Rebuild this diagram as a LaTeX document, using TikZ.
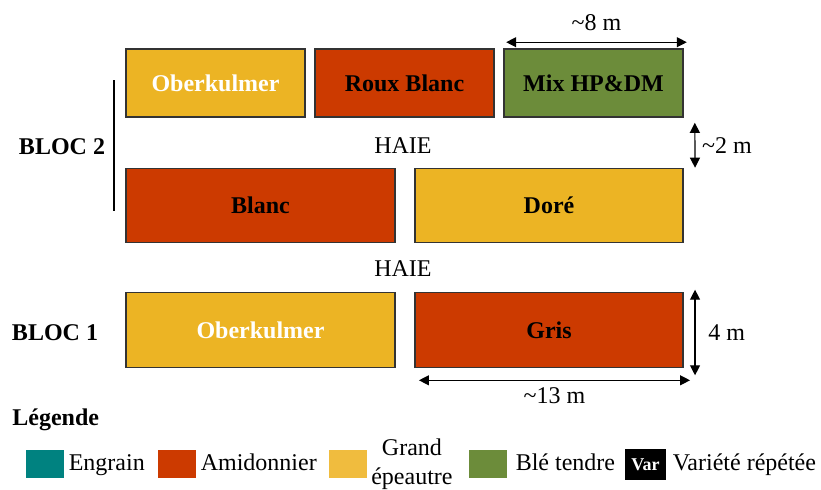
\documentclass[tikz,border=0pt]{standalone}
\usepackage{fontspec}
\setmainfont{Liberation Serif}
\usetikzlibrary{arrows.meta,positioning}

\definecolor{amidonnier}{RGB}{204,58,0}
\definecolor{epeautre}{RGB}{236,180,36}
\definecolor{epeautreleg}{RGB}{240,188,62}
\definecolor{bletendre}{RGB}{108,140,58}
\definecolor{engrain}{RGB}{0,130,128}

\newcommand{\taille}{\fontsize{12pt}{14.5pt}\selectfont}

\tikzset{
  parcelle/.style={draw=black!80, line width=0.8pt, inner sep=0pt, font=\taille\bfseries},
  petite/.style={parcelle, minimum width=89.5pt, minimum height=34pt},
  grande/.style={parcelle, minimum width=134.25pt, minimum height=37pt},
  cote/.style={{Triangle[length=5pt,width=5pt]}-{Triangle[length=5pt,width=5pt]}, line width=0.6pt},
  carre/.style={minimum width=19pt, minimum height=14pt, inner sep=0pt},
  legtexte/.style={anchor=west, inner sep=0pt, text height=8.5pt, text depth=2.5pt}
}

\begin{document}
\begin{tikzpicture}[x=0.5pt, y=-0.5pt, every node/.style={font=\taille}]
  \useasboundingbox (0,0) rectangle (821,489);

  % Bloc 2, premiere rangee
  \node[petite, fill=epeautre, text=white] (ober2) at (215.5,83) {Oberkulmer};
  \node[petite, fill=amidonnier] (roux) at (404.5,83) {Roux Blanc};
  \node[petite, fill=bletendre] (mix) at (593.5,83) {Mix HP\&DM};

  % Bloc 2, seconde rangee
  \node[grande, fill=amidonnier] (blanc) at (260.5,205.5) {Blanc};
  \node[grande, fill=epeautre] (dore) at (549,205.5) {Doré};

  % Bloc 1
  \node[grande, fill=epeautre, text=white, minimum height=37.5pt] (ober1) at (260.5,330) {Oberkulmer};
  \node[grande, fill=amidonnier, minimum height=37.5pt] (gris) at (549,330) {Gris};

  % Haies et blocs
  \node (haie2) at (403,146) {HAIE};
  \node (haie1) at (403,269) {HAIE};
  \node[font=\taille\bfseries] (bloc2) at (62,147) {BLOC 2};
  \node[font=\taille\bfseries] (bloc1) at (55,333) {BLOC 1};
  \draw[line width=1pt] (114,80) -- (114,211);

  % Cotes
  \draw[cote] ([xshift=1.5pt,yshift=3pt]mix.north west) -- ([xshift=1.5pt,yshift=3pt]mix.north east)
      node[midway, above=2pt] {\textasciitilde8 m};
  \draw[cote] ([xshift=5.5pt,yshift=-2.5pt]mix.south east) -- ([xshift=5.5pt]dore.north east)
      node[midway, right=0pt] {\textasciitilde2 m};
  \draw[cote] ([xshift=5.5pt,yshift=1pt]gris.north east) -- ([xshift=5.5pt,yshift=-3.5pt]gris.south east)
      node[midway, right=3pt] {4 m};
  \draw[cote] ([xshift=2.5pt,yshift=-6pt]gris.south west) -- ([xshift=3pt,yshift=-6pt]gris.south east)
      node[midway, below=0pt] {\textasciitilde13 m};

  % Legende
  \node[legtexte, font=\taille\bfseries] (legende) at (12,419) {Légende};
  \node[carre, fill=engrain] (leg1) at (45,464) {};
  \node[legtexte, right=2pt of leg1] {Engrain};
  \node[carre, fill=amidonnier] (leg2) at (177,464) {};
  \node[legtexte, right=2pt of leg2] {Amidonnier};
  \node[carre, fill=epeautreleg] (leg3) at (347.5,464) {};
  \node[anchor=west, inner sep=0pt, align=center, right=2pt of leg3] {Grand\\épeautre};
  \node[carre, fill=bletendre] (leg4) at (488,464) {};
  \node[legtexte, right=4pt of leg4] {Blé tendre};
  \node[carre, fill=black, minimum width=20.5pt, minimum height=15.5pt, text=white,
        font=\fontsize{9pt}{10pt}\selectfont\bfseries] (leg5) at (645.5,464.5) {Var};
  \node[legtexte, right=3pt of leg5] {Variété répétée};
\end{tikzpicture}
\end{document}
